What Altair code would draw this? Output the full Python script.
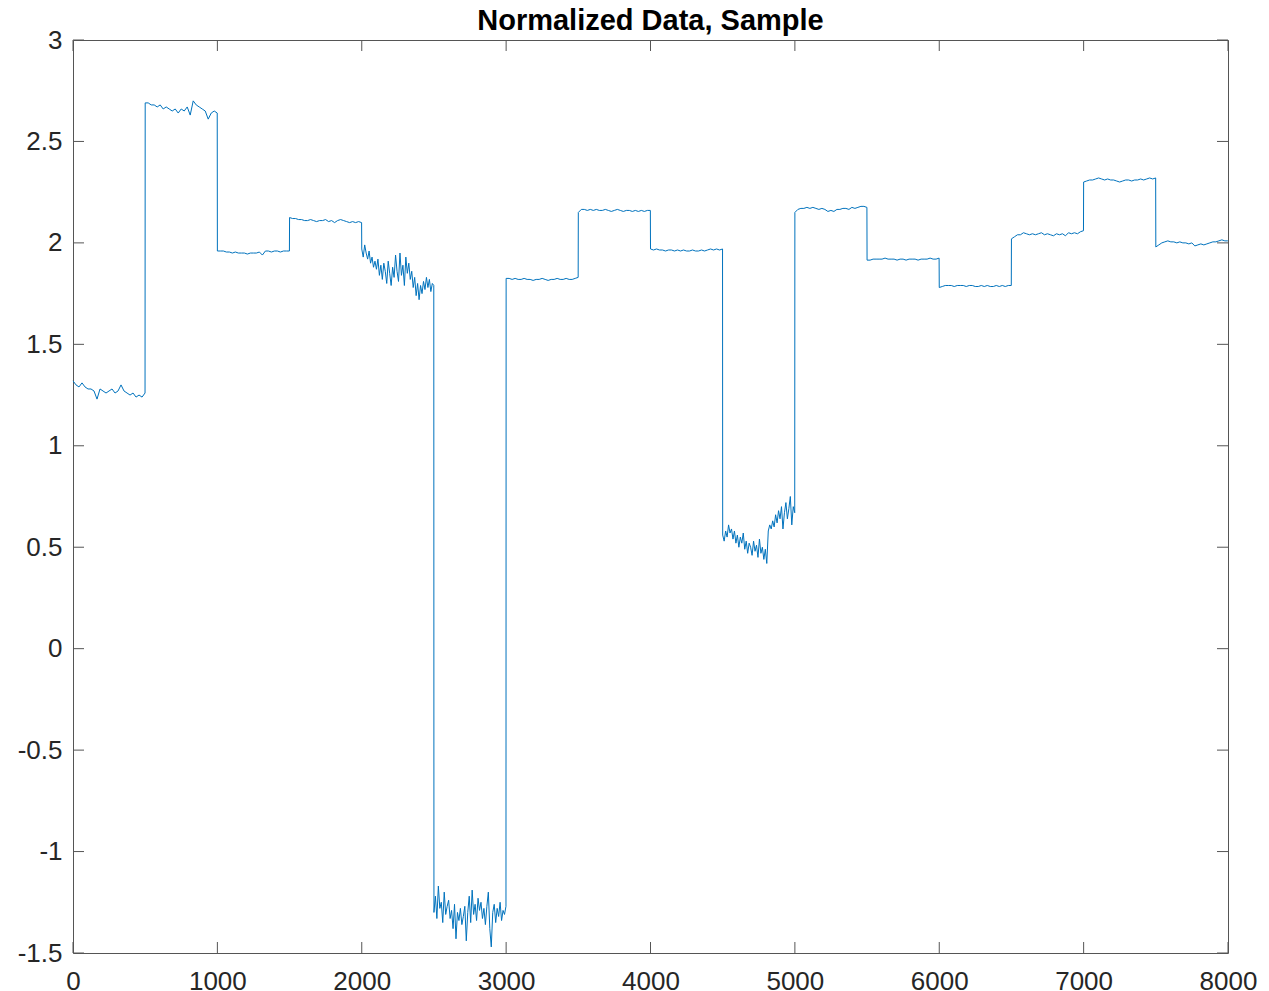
import altair as alt
import numpy as np
import pandas as pd

# ---- data (16 segments of 500 samples each) ----
seg_starts = [0, 500, 1000, 1500, 2000, 2500, 3000, 3500,
              4000, 4500, 5000, 5500, 6000, 6500, 7000, 7500]

seg00 = [1.32, 1.30, 1.29, 1.31, 1.29, 1.28, 1.28, 1.27, 1.23, 1.28, 1.27, 1.26, 1.27,
         1.28, 1.26, 1.27, 1.30, 1.27, 1.26, 1.25, 1.26, 1.24, 1.25, 1.24, 1.26]
seg01 = [2.69, 2.69, 2.68, 2.68, 2.67, 2.68, 2.66, 2.67, 2.66, 2.65, 2.66, 2.64, 2.66,
         2.65, 2.67, 2.63, 2.70, 2.68, 2.67, 2.66, 2.65, 2.61, 2.64, 2.65, 2.64]
seg02 = [1.96, 1.96, 1.96, 1.955, 1.955, 1.95, 1.955, 1.95, 1.95, 1.95, 1.945, 1.95, 1.95,
         1.95, 1.955, 1.94, 1.96, 1.96, 1.955, 1.96, 1.96, 1.955, 1.96, 1.96, 1.96]
seg03 = [2.125, 2.12, 2.12, 2.115, 2.115, 2.11, 2.11, 2.115, 2.11, 2.105, 2.11, 2.11, 2.115,
         2.105, 2.11, 2.10, 2.11, 2.115, 2.11, 2.105, 2.10, 2.105, 2.10, 2.105, 2.10]
seg04 = [1.97, 1.93, 1.99, 1.95, 1.92, 1.96, 1.90, 1.93, 1.88, 1.91,
         1.87, 1.92, 1.84, 1.89, 1.82, 1.90, 1.86, 1.80, 1.91, 1.85,
         1.79, 1.88, 1.83, 1.94, 1.86, 1.81, 1.95, 1.84, 1.89, 1.79,
         1.93, 1.85, 1.90, 1.82, 1.86, 1.78, 1.83, 1.74, 1.80, 1.72,
         1.79, 1.75, 1.81, 1.77, 1.83, 1.78, 1.82, 1.76, 1.80, 1.79]
seg05 = [-1.30, -1.22, -1.33, -1.17, -1.28, -1.25, -1.35, -1.20, -1.31, -1.27,
         -1.24, -1.33, -1.29, -1.38, -1.26, -1.43, -1.30, -1.34, -1.28, -1.36,
         -1.32, -1.27, -1.44, -1.30, -1.22, -1.35, -1.19, -1.31, -1.26, -1.34,
         -1.23, -1.29, -1.25, -1.33, -1.28, -1.36, -1.27, -1.20, -1.38, -1.47,
         -1.30, -1.26, -1.35, -1.28, -1.32, -1.25, -1.34, -1.29, -1.31, -1.27]
seg06 = [1.825, 1.825, 1.82, 1.825, 1.82, 1.82, 1.825, 1.82, 1.82, 1.815, 1.82, 1.82, 1.825,
         1.82, 1.815, 1.82, 1.82, 1.825, 1.82, 1.82, 1.825, 1.82, 1.82, 1.825, 1.83]
seg07 = [2.15, 2.165, 2.165, 2.16, 2.165, 2.16, 2.165, 2.16, 2.16, 2.165, 2.16, 2.155, 2.16,
         2.165, 2.16, 2.155, 2.16, 2.16, 2.155, 2.16, 2.155, 2.16, 2.155, 2.16, 2.16]
seg08 = [1.97, 1.965, 1.97, 1.965, 1.965, 1.96, 1.965, 1.965, 1.96, 1.965, 1.96, 1.965, 1.96,
         1.96, 1.965, 1.96, 1.96, 1.965, 1.96, 1.965, 1.97, 1.965, 1.97, 1.965, 1.97]
seg09 = [0.56, 0.53, 0.58, 0.55, 0.61, 0.57, 0.59, 0.54, 0.58, 0.52,
         0.56, 0.50, 0.55, 0.52, 0.57, 0.49, 0.53, 0.47, 0.52, 0.50,
         0.46, 0.53, 0.48, 0.51, 0.45, 0.54, 0.47, 0.50, 0.44, 0.49,
         0.42, 0.58, 0.61, 0.59, 0.63, 0.60, 0.66, 0.62, 0.68, 0.64,
         0.70, 0.59, 0.67, 0.72, 0.64, 0.69, 0.75, 0.61, 0.70, 0.67]
seg10 = [2.15, 2.165, 2.17, 2.17, 2.175, 2.17, 2.175, 2.17, 2.165, 2.17, 2.165, 2.155, 2.16,
         2.155, 2.165, 2.165, 2.17, 2.17, 2.165, 2.175, 2.17, 2.175, 2.18, 2.18, 2.175]
seg11 = [1.915, 1.915, 1.92, 1.92, 1.92, 1.92, 1.925, 1.92, 1.92, 1.92, 1.915, 1.92, 1.92,
         1.915, 1.92, 1.92, 1.92, 1.915, 1.92, 1.92, 1.92, 1.925, 1.92, 1.92, 1.925]
seg12 = [1.78, 1.785, 1.79, 1.79, 1.79, 1.785, 1.79, 1.79, 1.79, 1.785, 1.79, 1.79, 1.785,
         1.785, 1.79, 1.785, 1.79, 1.785, 1.785, 1.79, 1.785, 1.79, 1.785, 1.79, 1.79]
seg13 = [2.02, 2.03, 2.04, 2.04, 2.05, 2.045, 2.04, 2.045, 2.04, 2.045, 2.05, 2.04, 2.045,
         2.04, 2.035, 2.045, 2.04, 2.045, 2.035, 2.05, 2.045, 2.05, 2.045, 2.055, 2.06]
seg14 = [2.30, 2.305, 2.31, 2.31, 2.315, 2.32, 2.315, 2.31, 2.315, 2.31, 2.31, 2.305, 2.30,
         2.305, 2.31, 2.31, 2.305, 2.31, 2.31, 2.315, 2.31, 2.315, 2.32, 2.315, 2.32]
seg15 = [1.98, 1.99, 2.00, 2.005, 2.01, 2.005, 2.005, 2.00, 2.005, 2.00, 2.00, 1.995, 2.00,
         1.985, 1.99, 1.995, 1.99, 1.995, 2.00, 2.005, 2.005, 2.01, 2.015, 2.01, 2.01]

segments = [seg00, seg01, seg02, seg03, seg04, seg05, seg06, seg07,
            seg08, seg09, seg10, seg11, seg12, seg13, seg14, seg15]

x_ticks = [0, 1000, 2000, 3000, 4000, 5000, 6000, 7000, 8000]
y_ticks = [-1.5, -1, -0.5, 0, 0.5, 1, 1.5, 2, 2.5, 3]

# ---- build table ----
xs, ys = [], []
for start, vals in zip(seg_starts, segments):
    n = len(vals)
    xs.extend(np.linspace(start, start + 499, n).tolist())
    ys.extend(vals)
df = pd.DataFrame({"x": xs, "y": ys})
xt = pd.DataFrame({"x": x_ticks})
yt = pd.DataFrame({"y": y_ticks})

W, H = 1155, 913
TL = 11
AX = "#262626"
FRAME = "#555555"
FONT = "Liberation Sans"

xscale = alt.Scale(domain=[0, 8000], nice=False, zero=False)
yscale = alt.Scale(domain=[-1.5, 3], nice=False, zero=False)

xaxis = alt.Axis(values=x_ticks, ticks=False, domain=False, grid=False,
                 title=None, labelFontSize=26, labelFont=FONT, labelFlush=False,
                 labelColor=AX, labelPadding=15, labelExpr="datum.value + ''")
yaxis = alt.Axis(values=y_ticks, ticks=False, domain=False, grid=False,
                 title=None, labelFontSize=26, labelFont=FONT, labelFlush=False,
                 labelColor=AX, labelPadding=11, labelExpr="datum.value + ''")

line = alt.Chart(df).mark_line(color="#0072BD", strokeWidth=1).encode(
    x=alt.X("x:Q", scale=xscale, axis=xaxis),
    y=alt.Y("y:Q", scale=yscale, axis=yaxis),
)

xt_bottom = alt.Chart(xt).mark_rule(color=FRAME, strokeWidth=1).encode(
    x=alt.X("x:Q", scale=xscale, axis=xaxis),
    y=alt.value(H), y2=alt.value(H - TL))
xt_top = alt.Chart(xt).mark_rule(color=FRAME, strokeWidth=1).encode(
    x=alt.X("x:Q", scale=xscale, axis=xaxis),
    y=alt.value(0), y2=alt.value(TL))
yt_left = alt.Chart(yt).mark_rule(color=FRAME, strokeWidth=1).encode(
    y=alt.Y("y:Q", scale=yscale, axis=yaxis),
    x=alt.value(0), x2=alt.value(TL))
yt_right = alt.Chart(yt).mark_rule(color=FRAME, strokeWidth=1).encode(
    y=alt.Y("y:Q", scale=yscale, axis=yaxis),
    x=alt.value(W - TL), x2=alt.value(W))

chart = alt.layer(line, xt_bottom, xt_top, yt_left, yt_right).properties(
    width=W, height=H,
    title=alt.TitleParams("Normalized Data, Sample", fontSize=29, fontWeight="bold",
                          font=FONT, color="#000000", anchor="middle", offset=-9),
    autosize=alt.AutoSizeParams(type="none"),
    padding={"left": 65, "top": 32, "right": 33, "bottom": 38},
    background="white",
).configure_view(stroke=FRAME, strokeWidth=1)

chart.save("out.html", embed_options={"renderer": "svg", "actions": False})
